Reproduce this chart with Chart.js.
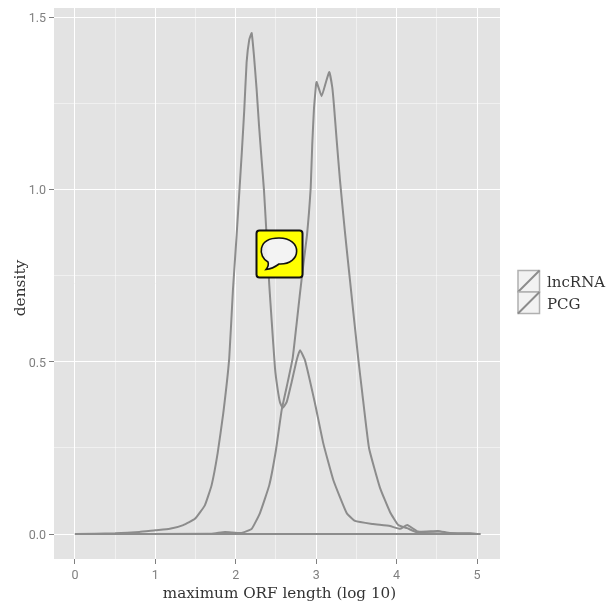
<!DOCTYPE html>
<html>
<head>
<meta charset="utf-8">
<style>html,body{margin:0;padding:0;background:#fff}#w{width:615px;height:604px}</style>
<script src="https://cdn.jsdelivr.net/npm/chart.js@4"></script>
</head>
<body>
<div id="w"><canvas id="c" width="615" height="604"></canvas></div>
<script>
const lncX = [0,0.5,0.8,1.0,1.18,1.347,1.493,1.617,1.70,1.775,1.845,1.919,1.965,2.011,2.046,2.075,2.106,2.135,2.168,2.198,2.226,2.26,2.289,2.322,2.351,2.376,2.417,2.446,2.488,2.519,2.55,2.583,2.633,2.695,2.757,2.799,2.861,2.985,3.088,3.213,3.379,3.483,3.706,3.918,4.042,4.133,4.266,4.515,4.664,4.913,5.03];
const lncY = [0,0.002,0.006,0.011,0.015,0.026,0.044,0.084,0.142,0.235,0.351,0.511,0.709,0.868,0.999,1.107,1.232,1.37,1.436,1.455,1.391,1.29,1.188,1.086,0.999,0.898,0.723,0.622,0.482,0.424,0.383,0.366,0.383,0.441,0.505,0.534,0.505,0.38,0.264,0.157,0.061,0.038,0.029,0.023,0.015,0.026,0.007,0.009,0.003,0.002,0];
const pcgX = [0,1.70,1.866,2.073,2.198,2.301,2.417,2.5,2.571,2.633,2.708,2.755,2.799,2.84,2.886,2.91,2.932,2.951,2.973,2.998,3.006,3.068,3.122,3.163,3.2,3.221,3.255,3.296,3.358,3.42,3.524,3.573,3.657,3.794,3.918,4.021,4.13,4.266,5.03];
const pcgY = [0,0.001,0.006,0.003,0.015,0.061,0.142,0.244,0.36,0.427,0.511,0.607,0.70,0.781,0.868,0.932,1.005,1.13,1.237,1.305,1.313,1.272,1.313,1.342,1.298,1.246,1.144,1.028,0.877,0.738,0.508,0.41,0.25,0.134,0.064,0.026,0.017,0.004,0];
const seriesNames = ["lncRNA","PCG"];
const xTicks = [0,0.5,1,1.5,2,2.5,3,3.5,4,4.5,5];
const yTicks = [0,0.25,0.5,0.75,1,1.25,1.5];
const xTitle = "maximum ORF length (log 10)";
const yTitle = "density";

const serif = '"DejaVu Serif","Liberation Serif",serif';
const sans = '"Roboto","Liberation Sans",sans-serif';
const lineCol = "#8c8c8c";
const toXY = (xs, ys) => {
  const p = xs.map((x, i) => ({x, y: ys[i]}));
  p.push({x: xs[0], y: 0});
  return p;
};
const noPad = s => { s.paddingTop = 0; s.paddingBottom = 0; s.paddingLeft = 0; s.paddingRight = 0; };
const decor = {
  id: "decor",
  afterDraw(chart) {
    const g = chart.ctx;
    g.save();
    // axis titles
    g.fillStyle = "#333"; g.font = "15.2px " + serif;
    g.textBaseline = "middle"; g.textAlign = "center";
    g.fillText(xTitle, 279.5, 594);
    g.save(); g.translate(21, 288); g.rotate(-Math.PI / 2);
    g.font = "15.4px " + serif; g.fillText(yTitle, 0, 0); g.restore();
    // legend
    seriesNames.forEach((n, i) => {
      const x = 518, y = 270.5 + i * 21.5, s = 21.5;
      g.fillStyle = "#f2f2f2"; g.fillRect(x, y, s, s);
      g.strokeStyle = "#b0b0b0"; g.lineWidth = 1.5; g.strokeRect(x, y, s, s);
      g.strokeStyle = lineCol; g.lineWidth = 2;
      g.beginPath(); g.moveTo(x, y + s); g.lineTo(x + s, y); g.stroke();
      g.fillStyle = "#333"; g.font = "15px " + serif;
      g.textBaseline = "middle"; g.textAlign = "left";
      g.fillText(n, 547, y + s / 2 + 2);
    });
    // note icon
    g.fillStyle = "#ffff00"; g.strokeStyle = "#111"; g.lineWidth = 2;
    g.beginPath(); g.roundRect(256.5, 230.5, 46, 47, 3); g.fill(); g.stroke();
    const grad = g.createLinearGradient(261, 0, 298, 0);
    grad.addColorStop(0, "#e4e4e4"); grad.addColorStop(0.2, "#f3f3f3"); grad.addColorStop(1, "#f3f3f3");
    g.fillStyle = grad; g.lineWidth = 1.6;
    g.beginPath();
    g.moveTo(268, 262);
    g.bezierCurveTo(258, 257, 257, 238, 279, 238);
    g.bezierCurveTo(303, 238, 302, 265, 279, 264);
    g.bezierCurveTo(275, 267, 271, 269, 266, 269.5);
    g.bezierCurveTo(268, 267, 269, 265, 268, 262);
    g.closePath(); g.fill(); g.stroke();
    g.restore();
  }
};
const panelBg = {
  id: "panelBg",
  beforeDraw(chart) {
    const a = chart.chartArea;
    chart.ctx.fillStyle = "#e3e3e3";
    chart.ctx.fillRect(a.left, a.top, a.right - a.left, a.bottom - a.top);
  }
};
new Chart(document.getElementById("c"), {
  type: "scatter",
  data: { datasets: [
    { label: seriesNames[0], data: toXY(lncX, lncY), showLine: true, borderColor: lineCol, borderWidth: 2, pointRadius: 0, tension: 0.12, fill: false },
    { label: seriesNames[1], data: toXY(pcgX, pcgY), showLine: true, borderColor: lineCol, borderWidth: 2, pointRadius: 0, tension: 0.12, fill: false }
  ]},
  options: {
    responsive: false, animation: false, devicePixelRatio: 1,
    layout: { padding: { top: 8, right: 115, left: 0, bottom: 0 } },
    plugins: { legend: { display: false }, tooltip: { enabled: false } },
    scales: {
      x: {
        type: "linear", min: -0.26, max: 5.286,
        afterBuildTicks(s) { s.ticks = xTicks.map(v => ({value: v})); },
        afterFit(s) { s.height = 45; noPad(s); },
        grid: {
          color: c => Number.isInteger(c.tick.value) ? "#ffffff" : "rgba(255,255,255,0.45)",
          tickColor: c => Number.isInteger(c.tick.value) ? "#7f7f7f" : "rgba(0,0,0,0)",
          lineWidth: 1, tickLength: 5
        },
        border: { display: false },
        ticks: { autoSkip: false, maxRotation: 0, color: "#7f7f7f", padding: 4, font: {family: sans, size: 12.5},
          callback: v => Number.isInteger(v) ? String(v) : "" }
      },
      y: {
        type: "linear", min: -0.0726, max: 1.528,
        afterBuildTicks(s) { s.ticks = yTicks.map(v => ({value: v})); },
        afterFit(s) { s.width = 54; noPad(s); },
        grid: {
          color: c => (c.tick.value * 2) % 1 === 0 ? "#ffffff" : "rgba(255,255,255,0.45)",
          tickColor: c => (c.tick.value * 2) % 1 === 0 ? "#7f7f7f" : "rgba(0,0,0,0)",
          lineWidth: 1, tickLength: 5
        },
        border: { display: false },
        ticks: { autoSkip: false, color: "#7f7f7f", padding: 3, labelOffset: 1.5, font: {family: sans, size: 12.5},
          callback: v => (v * 2) % 1 === 0 ? v.toFixed(1) : "" }
      }
    }
  },
  plugins: [panelBg, decor]
});
</script>
</body>
</html>
